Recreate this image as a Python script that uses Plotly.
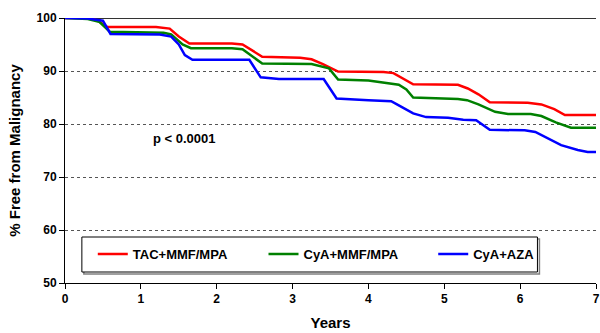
import plotly.graph_objects as go

# Data
tac_x = [0, 0.35, 0.45, 0.56, 1.2, 1.38, 1.5, 1.64, 2.2, 2.34, 2.6, 3.1, 3.25, 3.4, 3.6, 4.2, 4.33,
         4.59, 5.18, 5.31, 5.45, 5.6, 6.1, 6.28, 6.45, 6.59, 7.0]
tac_y = [100, 100, 99.3, 98.3, 98.3, 98.0, 96.5, 95.2, 95.2, 95.0, 92.7, 92.5, 92.2, 91.3, 89.9, 89.8,
         89.6, 87.5, 87.4, 86.7, 85.6, 84.1, 84.0, 83.7, 82.8, 81.7, 81.7]

cya_mmf_x = [0, 0.3, 0.45, 0.59, 1.3, 1.4, 1.55, 1.66, 2.2, 2.34, 2.6, 3.25, 3.48, 3.6, 4.0, 4.4, 4.5,
             4.59, 5.18, 5.3, 5.45, 5.67, 5.84, 6.14, 6.28, 6.47, 6.67, 7.0]
cya_mmf_y = [100, 99.8, 99.3, 97.4, 97.2, 96.9, 95.0, 94.3, 94.3, 94.1, 91.4, 91.3, 90.5, 88.4, 88.2,
             87.4, 86.5, 85.0, 84.7, 84.5, 83.7, 82.3, 81.9, 81.9, 81.5, 80.3, 79.3, 79.3]

cya_aza_x = [0, 0.3, 0.5, 0.6, 1.25, 1.4, 1.5, 1.58, 1.68, 2.43, 2.58, 2.82, 3.41, 3.5, 3.58, 4.0, 4.3,
             4.4, 4.59, 4.76, 5.05, 5.25, 5.42, 5.6, 6.06, 6.2, 6.33, 6.54, 6.76, 6.89, 7.0]
cya_aza_y = [100, 99.9, 99.5, 97.0, 96.9, 96.5, 95.0, 93.0, 92.1, 92.1, 88.8, 88.5, 88.5, 86.5, 84.8,
             84.5, 84.3, 83.5, 82.0, 81.3, 81.2, 80.8, 80.7, 78.9, 78.8, 78.5, 77.6, 76.0, 75.1, 74.7, 74.7]

series_names = ["TAC+MMF/MPA", "CyA+MMF/MPA", "CyA+AZA"]
series_colors = ["#FF0000", "#008000", "#0000FF"]
x_ticks = [0, 1, 2, 3, 4, 5, 6, 7]
y_ticks = [50, 60, 70, 80, 90, 100]
p_label = "p < 0.0001"

FONT = "Liberation Sans, Arial, sans-serif"

# plot area in pixels: left 65, right 600, top 18, bottom 283
PL, PW, PB, PH = 65, 535, 283, 265


def px_x(p):
    return (p - PL) / PW


def px_y(p):
    return (PB - p) / PH


legend_ids = ["legend", "legend2", "legend3"]
legend_px = [93, 265, 436]

fig = go.Figure()
for name, color, xs, ys, lid in zip(series_names, series_colors,
                                    [tac_x, cya_mmf_x, cya_aza_x],
                                    [tac_y, cya_mmf_y, cya_aza_y], legend_ids):
    fig.add_trace(go.Scatter(x=xs, y=ys, mode="lines", name=name, legend=lid,
                             line=dict(color=color, width=2.5)))

fig.add_shape(type="line", xref="paper", yref="y", x0=0, x1=1, y0=100, y1=100,
              line=dict(color="#333333", width=2), layer="below")
# legend box (with slight shadow)
fig.add_shape(type="rect", xref="paper", yref="paper",
              x0=px_x(84), x1=px_x(543), y0=px_y(274), y1=px_y(239),
              line=dict(color="#808080", width=1.5), fillcolor="rgba(0,0,0,0)", layer="below")
fig.add_shape(type="rect", xref="paper", yref="paper",
              x0=px_x(82), x1=px_x(541), y0=px_y(272), y1=px_y(237),
              line=dict(color="black", width=1), fillcolor="white", layer="below")

fig.add_annotation(x=1.57, y=77.2, text=p_label, showarrow=False,
                   font=dict(family=FONT, size=13, color="black", weight="bold"))

legend_common = dict(orientation="h", xanchor="left", yanchor="top",
                     bgcolor="rgba(0,0,0,0)", borderwidth=0,
                     font=dict(family=FONT, size=13, color="black", weight="bold"))
legends = {}
for lid, lx in zip(legend_ids, legend_px):
    legends[lid] = dict(x=px_x(lx), y=px_y(239), **legend_common)

fig.update_layout(
    width=600, height=333,
    margin=dict(l=65, r=0, t=18, b=50),
    plot_bgcolor="white", paper_bgcolor="white",
    font=dict(family=FONT, color="black"),
    showlegend=True,
    **legends,
    xaxis=dict(range=[0, 7], tickvals=x_ticks, ticks="outside", ticklen=5, tickcolor="black",
               showline=True, linecolor="black", linewidth=1, showgrid=False, zeroline=False,
               ticklabeloverflow="allow",
               tickfont=dict(family=FONT, size=12, color="black", weight="bold"),
               title=dict(text="Years", font=dict(family=FONT, size=15, color="black", weight="bold"),
                          standoff=12)),
    yaxis=dict(range=[50, 100], tickvals=y_ticks, ticks="outside", ticklen=5, tickcolor="black",
               showline=True, linecolor="black", linewidth=1, zeroline=False,
               showgrid=True, gridcolor="#555555", gridwidth=1.2, griddash="3px,3px",
               tickfont=dict(family=FONT, size=12, color="black", weight="bold"),
               title=dict(text="% Free from Malignancy",
                          font=dict(family=FONT, size=15, color="black", weight="bold"),
                          standoff=12)),
)

fig.write_html("out.html")
